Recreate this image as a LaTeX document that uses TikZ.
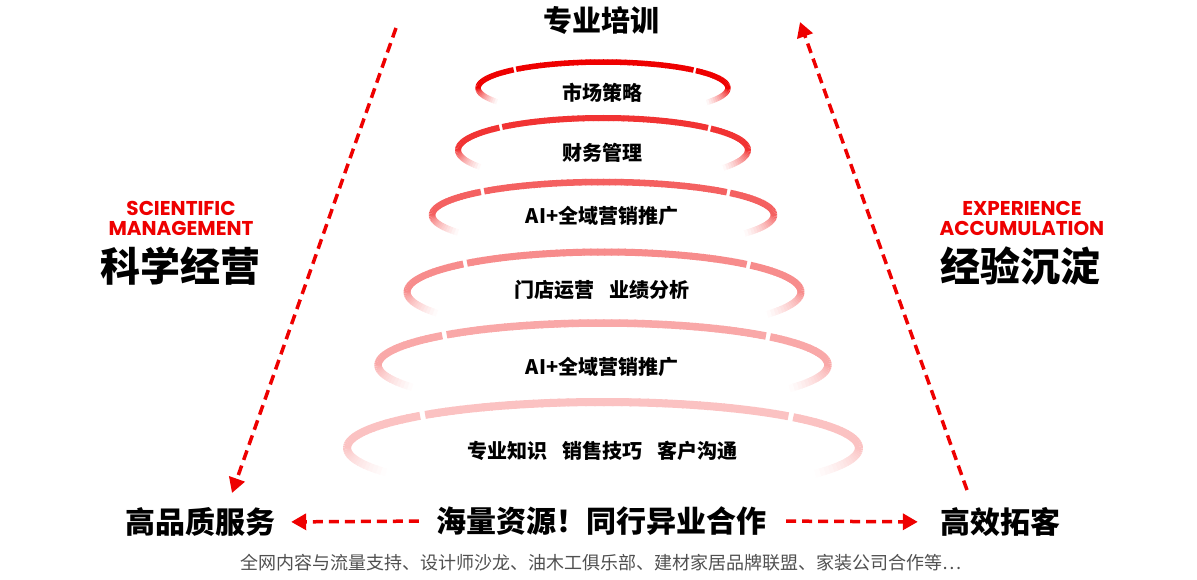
\documentclass[tikz,border=0pt]{standalone}
\usepackage{fontspec}
\usepackage{tikz}
\usetikzlibrary{arrows.meta}
\setmainfont{Noto Sans CJK SC}
\newfontfamily\enfont{Poppins}

\definecolor{brand}{RGB}{238,0,0}
\definecolor{notegray}{RGB}{80,80,80}

\tikzset{
  lbl/.style={inner sep=0pt, font=\bfseries\fontsize{20}{20}\selectfont},
  head/.style={inner sep=0pt, font=\bfseries\fontsize{29}{29}\selectfont},
  side/.style={inner sep=0pt, font=\bfseries\fontsize{40}{40}\selectfont},
  eng/.style={inner sep=0pt, align=center, text=brand,
    font=\enfont\bfseries\fontsize{20}{20}\selectfont},
  foot/.style={inner sep=0pt, font=\bfseries\fontsize{30}{30}\selectfont},
  note/.style={inner sep=0pt, text=notegray, font=\fontsize{18}{18}\selectfont},
  dasharrow/.style={brand, line width=3.5pt, dash pattern=on 10pt off 6pt,
    -{Triangle[length=15pt,width=16pt]}},
}

% ring: cx, cy, rx, ry, strength, width
\newcommand\ring[6]{%
  \foreach \a in {0,2,...,358}{
    \ifnum\a=224\relax\else\ifnum\a=316\relax\else
      \pgfmathsetmacro\s{sin(\a)}
      \pgfmathsetmacro\p{#5*max(0,min(1,1-\s/0.55))}
      \pgfmathsetmacro\b{\a+2.4}
      \draw[line width=#6, color=brand!\p!white]
        (#1,#2) ++(\a:#3 and #4) arc (\a:\b:#3 and #4);
    \fi\fi
  }}

\begin{document}
\begin{tikzpicture}[x=1pt,y=-1pt]
      \useasboundingbox (0,0) rectangle (1197,580);
      % rings
      \ring{603}{88}{125}{26}{100}{5.5pt}
      \ring{603}{150}{145}{32}{80}{6pt}
      \ring{603}{215}{171}{33}{62}{6.5pt}
      \ring{604}{292}{197}{40}{45}{7pt}
      \ring{603}{365}{225}{42}{34}{7.5pt}
      \ring{603}{448}{256}{46}{24}{8pt}
      % ring labels
      \node[head] (train) at (601,20) {专业培训};
      \node[lbl] (r1) at (602,93)  {市场策略};
      \node[lbl] (r2) at (602,153) {财务管理};
      \node[lbl] (r3) at (602,216) {AI+全域营销推广};
      \node[lbl] (r4) at (602,290) {门店运营\hspace{0.75em}业绩分析};
      \node[lbl] (r5) at (602,367) {AI+全域营销推广};
      \node[lbl] (r6) at (602,451) {专业知识\hspace{0.75em}销售技巧\hspace{0.75em}客户沟通};
      % left and right
      \node[eng]  (sciEn) at (181,218) {SCIENTIFIC\\MANAGEMENT};
      \node[side] (sci)   at (180,266) {科学经营};
      \node[eng]  (expEn) at (1022,218) {EXPERIENCE\\ACCUMULATION};
      \node[side] (exp)   at (1020,266) {经验沉淀};
      % bottom row
      \node[foot] (service) at (200,522) {高品质服务};
      \node[foot] (pool)    at (601,521) {海量资源！同行异业合作};
      \node[foot] (expand)  at (1000,522) {高效拓客};
      \node[note] (partner) at (601,563) {全网内容与流量支持、设计师沙龙、油木工俱乐部、建材家居品牌联盟、家装公司合作等…};
      % arrows
      \coordinate (sciTail) at (396,28);
      \coordinate (sciTip)  at (232,493);
      \coordinate (expTail) at (967,490);
      \coordinate (expTip)  at (800,22);
      \draw[dasharrow] (sciTail) -- (sciTip);
      \draw[dasharrow] (expTail) -- (expTip);
      \draw[dasharrow,shorten <=17pt,shorten >=16pt] (pool.west) -- (service.east);
      \draw[dasharrow,shorten <=20pt,shorten >=22pt] (pool.east) -- (expand.west);
\end{tikzpicture}
\end{document}
